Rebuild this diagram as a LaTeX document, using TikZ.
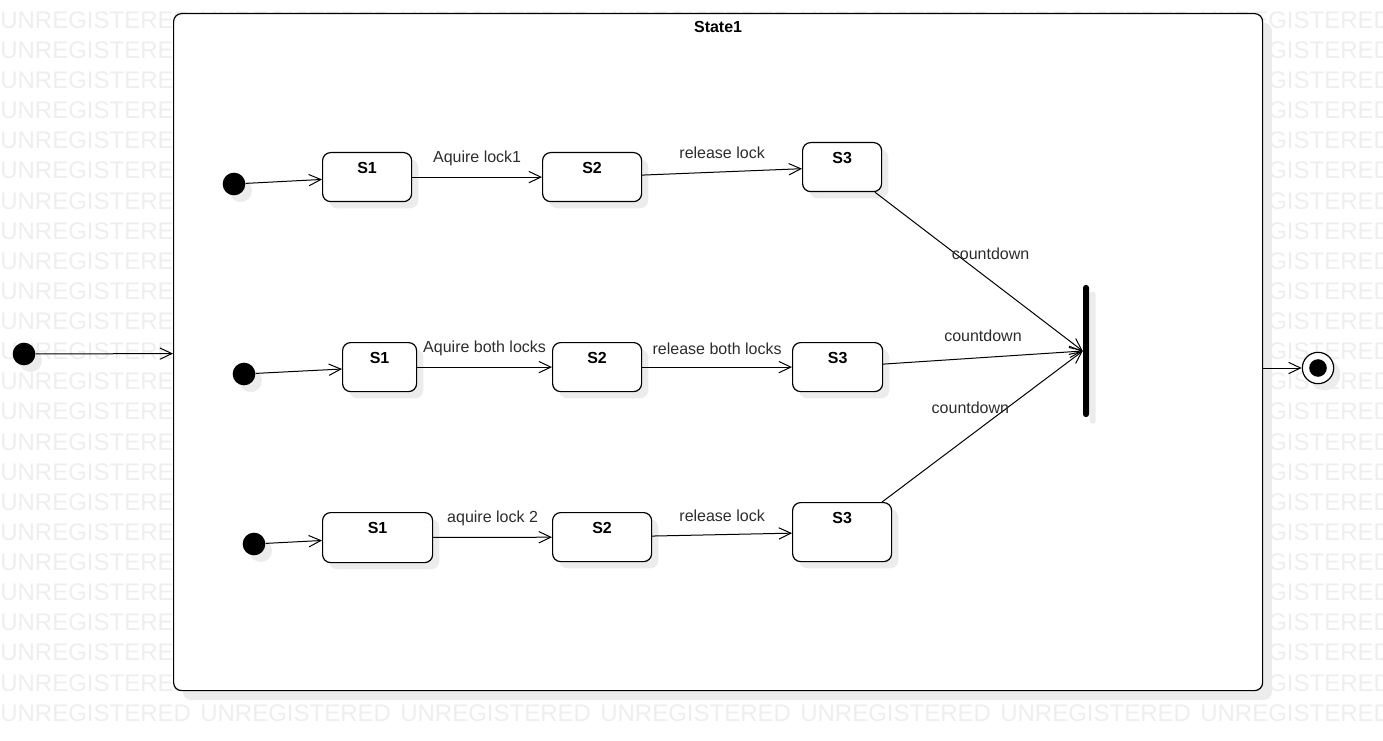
\documentclass[tikz,border=0pt]{standalone}
\usepackage{fontspec}
\setmainfont{Liberation Sans}
\usetikzlibrary{arrows.meta,positioning,shadows}

\definecolor{wmgray}{RGB}{238,238,238}
\definecolor{shade}{RGB}{236,236,236}
\definecolor{lblgray}{RGB}{45,45,45}

\tikzset{
  shd/.style={general shadow={fill=shade, shadow xshift=#1, shadow yshift=-#1}},
  shd/.default=5pt,
  statebox/.style={draw, line width=0.9pt, rounded corners=6pt, fill=white, shd,
    font=\fontsize{12}{14}\selectfont\bfseries, inner sep=0pt, text height=15.75pt,
    anchor=north west},
  startdot/.style={circle, fill=black, inner sep=0pt, minimum size=17pt, shd},
  trans/.style={->, line width=0.75pt},
  lbl/.style={midway, yshift=#1, text=lblgray},
  lbl/.default=14pt,
  wm/.style={anchor=west, text=wmgray, inner sep=0pt, font=\fontsize{18}{18}\selectfont},
}

\begin{document}
\begin{tikzpicture}[x=0.75pt, y=-0.75pt, >={Straight Barb[length=9pt,width=8.5pt]},
    font=\fontsize{12}{14}\selectfont]
  \useasboundingbox (0,0) rectangle (1383,741);

  % Watermark
  \foreach \r in {0,...,23}
    \foreach \c in {0,...,6}
      \node[wm] (wm-\r-\c) at (\c*200, 20+\r*30.13) {UNREGISTERED};

  % Composite state
  \node[draw, line width=0.9pt, rounded corners=6pt, fill=white, shd=7pt, inner sep=0pt,
    minimum width=816.75pt, minimum height=507.75pt, anchor=north west] (st) at (173,13) {};
  \node[font=\fontsize{12}{14}\selectfont\bfseries, inner sep=0pt, below=6pt of st.north] (stname) {State1};

  % Outer initial and final states
  \node[startdot] (init) at (24,354) {};
  \node[circle, draw, line width=0.9pt, fill=white, minimum size=23.5pt, inner sep=0pt, shd,
    path picture={\fill[black] (path picture bounding box.center) circle (6.6pt);}] (fin) at (1318,368) {};
  \draw[trans] (init) -- (st);
  \draw[trans] (st.east |- fin) -- (fin);

  % Join bar
  \node[fill=black, rounded corners=2pt, minimum width=4.5pt, minimum height=99pt, inner sep=0pt, shd] (bar) at (1086,351) {};

  % Row 1
  \node[startdot] (i1) at (234,184) {};
  \node[statebox, minimum width=66.75pt, text depth=21pt] (a1) at (322,152) {S1};
  \node[statebox, minimum width=74.25pt, text depth=21pt] (b1) at (542,152) {S2};
  \node[statebox, minimum width=59.25pt, text depth=21pt] (c1) at (802,142) {S3};
  \draw[trans] (i1) -- (a1);
  \draw[trans] (a1) -- node[lbl] (l1a) {Aquire lock1} (b1);
  \draw[trans] (b1) -- node[lbl] (l1b) {release lock} (c1);
  \draw[trans] (c1) -- node[lbl=13.5pt, xshift=8.8pt] (l1c) {countdown} (bar.west);

  % Row 2
  \node[startdot] (i2) at (244,374) {};
  \node[statebox, minimum width=55.5pt, text depth=21pt] (a2) at (342,342) {S1};
  \node[statebox, minimum width=66.75pt, text depth=21pt] (b2) at (552,342) {S2};
  \node[statebox, minimum width=67.5pt, text depth=21pt] (c2) at (792,342) {S3};
  \draw[trans] (i2) -- (a2);
  \draw[trans] (a2) -- node[lbl] (l2a) {Aquire both locks} (b2);
  \draw[trans] (b2) -- node[lbl] (l2b) {release both locks} (c2);
  \draw[trans] (c2) -- node[lbl=16pt] (l2c) {countdown} (bar.west);

  % Row 3
  \node[startdot] (i3) at (254,544) {};
  \node[statebox, minimum width=82.5pt, text depth=21.75pt] (a3) at (322,512) {S1};
  \node[statebox, minimum width=74.25pt, text depth=21pt] (b3) at (552,512) {S2};
  \node[statebox, minimum width=74.25pt, text depth=28.5pt] (c3) at (792,502) {S3};
  \draw[trans] (i3) -- (a3);
  \draw[trans] (a3) -- node[lbl] (l3a) {aquire lock 2} (b3);
  \draw[trans] (b3) -- node[lbl] (l3b) {release lock} (c3);
  \draw[trans] (c3) -- node[lbl=13.9pt, xshift=-9pt] (l3c) {countdown} (bar.west);
\end{tikzpicture}
\end{document}
